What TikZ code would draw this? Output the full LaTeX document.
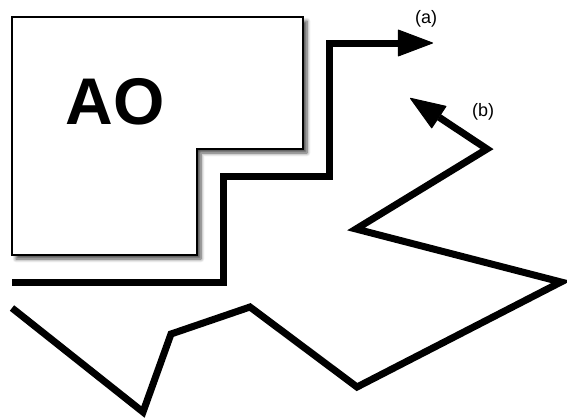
\documentclass[tikz,border=0pt]{standalone}
\usepackage{fontspec}
\setmainfont{Liberation Sans}
\usetikzlibrary{arrows.meta,shadows.blur}
\begin{document}
\begin{tikzpicture}[x=1pt,y=-1pt,
  route/.style={line width=7pt,miter limit=20},
  tip/.style={-{Triangle[length=36pt,width=27pt,line width=1pt,fill=black,round]}},
  lbl/.style={font=\fontsize{18}{20}\selectfont},
  panel/.style={draw=black,line width=1.2pt,fill=white,
    blur shadow={shadow xshift=4pt,shadow yshift=-4pt,shadow blur steps=6,shadow blur radius=3.5pt,shadow opacity=70}}]
\useasboundingbox (0,0) rectangle (567,418);

% L-shaped panel
\path[panel] (12,17) -- (303,17) -- (303,149) -- (197,149) -- (197,255) -- (12,255) -- cycle;
\node (ao) at (115,102) {\fontsize{66}{70}\selectfont\bfseries AO};

% route (a): stepped line around the panel
\coordinate (a0) at (12,282);
\coordinate (a1) at (223.5,282);
\coordinate (a2) at (223.5,176.5);
\coordinate (a3) at (329.5,176.5);
\coordinate (a4) at (329.5,43);
\coordinate (a5) at (433,43);
\draw[route,tip] (a0) -- (a1) -- (a2) -- (a3) -- (a4) -- (a5);
\node[lbl] (la) at (426,19) {(a)};

% route (b): zig-zag line
\coordinate (b0) at (12,308);
\coordinate (b1) at (143,412);
\coordinate (b2) at (171,334);
\coordinate (b3) at (250,307);
\coordinate (b4) at (357,387);
\coordinate (b5) at (561,282);
\coordinate (b6) at (356,229);
\coordinate (b7) at (487,149);
\coordinate (b8) at (410,98);
\draw[route,tip] (b0) -- (b1) -- (b2) -- (b3) -- (b4) -- (b5) -- (b6) -- (b7) -- (b8);
\node[lbl] (lb) at (483,112) {(b)};
\end{tikzpicture}
\end{document}
